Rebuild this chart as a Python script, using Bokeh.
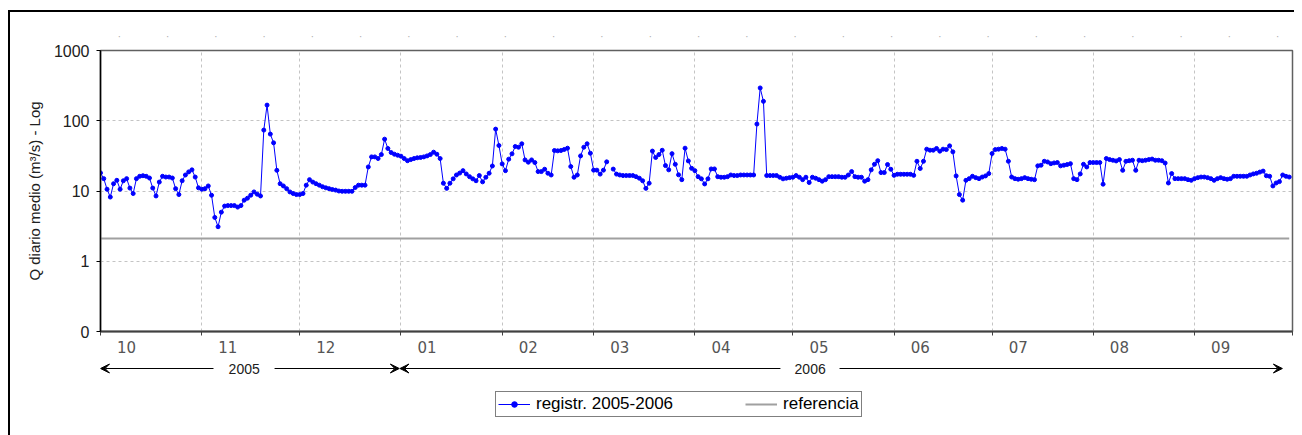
import numpy as np
import pandas as pd
from bokeh.plotting import figure
from bokeh.layouts import column
from bokeh.models import (Range1d, FixedTicker, CustomJSTickFormatter, Legend, LegendItem,
                          Arrow, VeeHead, Label, ColumnDataSource, LinearAxis)
from bokeh.embed import file_html
from bokeh.resources import INLINE

# ---------------- data ----------------
dates = pd.date_range("2005-10-01", "2006-09-30", freq="D")

q_oct = [18.1, 15, 10.6, 8.2, 12.7, 14.2, 10.6, 14, 15, 11, 9.2, 15, 16.2, 16.5, 16.2, 15.3,
         11, 8.5, 13.4, 16.2, 15.8, 15.8, 15.3, 10.8, 8.9, 14, 16.9, 18.7, 20, 15.8, 11.1]
q_nov = [10.6, 10.8, 11.8, 8.7, 4.2, 3.1, 5.0, 6.1, 6.2, 6.2, 6.2, 5.9, 6.2, 7.4, 7.9, 8.7,
         9.7, 9.0, 8.5, 73.6, 167, 64.6, 48.5, 19.7, 12.7, 11.8, 10.8, 9.7, 9.2, 8.9]
q_dec = [8.9, 9.2, 12.1, 14.5, 13.4, 12.7, 12.1, 11.5, 11.1, 10.8, 10.5, 10.3, 10.0, 9.9, 9.9,
         9.9, 9.9, 11.2, 12.1, 12.1, 12.1, 22, 30.6, 30.6, 29, 33, 54.7, 40.3, 35.3, 33.4, 32.3]
q_jan = [31.3, 29, 27, 28, 29, 29.7, 30, 30.6, 31.6, 33, 35.7, 33.4, 29, 12.9, 10.9, 12.9,
         14.9, 16.9, 18, 19.5, 17.5, 16, 14.9, 14, 16.6, 13.5, 15.7, 17.9, 22.7, 76, 44.4]
q_feb = [24.3, 19.5, 28.4, 33.8, 43, 42, 47, 27.7, 25.7, 27.7, 25.4, 18.9, 18.9, 20.4, 17.9,
         16.9, 37.7, 37.3, 37.7, 39, 40.7, 22.3, 15.7, 16.9, 31.6, 42, 47, 34.5]
q_mar = [19.8, 19.8, 17.4, 19.8, 26, np.nan, 20.5, 17.4, 16.9, 16.6, 16.6, 16.6, 16.6, 16,
         15.2, 14, 10.9, 12.9, 37, 30, 33, 38, 23, 20, 34, 24, 17, 14.5, 40.7, 26.8, 21]
q_apr = [19.5, 16, 14.9, 12.6, 14.9, 20.6, 20.6, 16, 15.7, 15.7, 16, 16.9, 16.6, 16.6, 16.9,
         16.9, 16.9, 16.9, 16.9, 89.7, 293, 189, 16.6, 16.6, 16.6, 16.6, 15.7, 14.9, 15.2, 15.5]
q_may = [15.7, 16.6, 15.7, 14.5, 15.7, 13.2, 15.7, 15.2, 14.5, 13.8, 14.5, 16, 16, 16, 16,
         15.7, 15.7, 16.9, 18.9, 16, 15.7, 15.7, 13.8, 14.5, 20, 24, 27, 18.3, 18.3, 23.8, 20.4]
q_jun = [16.7, 17.3, 17.3, 17.3, 17.3, 17.3, 16.7, 26.5, 20.9, 26.5, 39.4, 38.1, 38.1, 40.3,
         36.9, 39.4, 38.9, 43.9, 36.1, 16.4, 8.9, 7.4, 14.2, 15, 16.2, 15.5, 15, 15.8, 16.4, 17.7]
q_jul = [34.1, 38.9, 39.4, 40.3, 39.4, 26.5, 15.8, 15, 14.7, 15, 15.5, 15, 14.7, 14.5, 22.8,
         23.3, 26.5, 25.9, 24.5, 25.1, 25.4, 22.8, 23.3, 23.8, 24.5, 15, 14.5, 17.5, 24, 22, 25.4]
q_aug = [25.4, 25.4, 25.4, 12.5, 29, 28, 27.4, 26.8, 28, 19.7, 26.5, 27, 27.4, 19.7, 27.4, 27,
         27.4, 28, 28.5, 27.4, 27.4, 27, 25, 13, 17.7, 15, 15, 15, 15, 14.5, 14.2]
q_sep = [15, 15.5, 15.8, 15.8, 15.5, 15, 14.2, 15, 15.5, 15, 14.7, 15, 16.2, 16.2, 16.2, 16.2,
         16.2, 16.9, 17.5, 17.9, 18.6, 19.2, 16.5, 16.2, 11.8, 13, 13.6, 16.9, 16.2, 15.8]

q_registro = (q_oct + q_nov + q_dec + q_jan + q_feb + q_mar + q_apr + q_may + q_jun
              + q_jul + q_aug + q_sep)
q_referencia = 2.1

month_labels = ["10", "11", "12", "01", "02", "03", "04", "05", "06", "07", "08", "09"]
year_labels = ["2005", "2006"]
y_ticks = [0.1, 1, 10, 100, 1000]

# ---------------- derived positions ----------------
day = (dates - dates[0]).days.to_numpy().astype(float)
n_days = len(dates)
month_starts = pd.date_range("2005-10-01", "2006-09-01", freq="MS")
month_start_day = [int((m - dates[0]).days) for m in month_starts]
label_pos = [d + 8 for d in month_start_day]
jan1 = int((pd.Timestamp("2006-01-01") - dates[0]).days)

src = ColumnDataSource(dict(x=day, q=np.array(q_registro, dtype=float)))
ref_src = ColumnDataSource(dict(x=[0, n_days - 1], q=[q_referencia, q_referencia]))

FONT = "Liberation Sans"
LEFT = 90
RIGHT = 2
FRAME_W = 1192

x_range = Range1d(0, n_days)

p = figure(frame_width=FRAME_W, frame_height=281, output_backend="svg", toolbar_location=None,
           y_axis_type="log", x_range=x_range, y_range=Range1d(0.1, 1000),
           min_border_left=LEFT, min_border_right=RIGHT, min_border_top=38,
           min_border_bottom=27)
p.background_fill_color = "white"
p.border_fill_color = "white"
p.outline_line_color = "#606060"
p.outline_line_width = 1.5

# grids
p.xgrid.ticker = FixedTicker(ticks=month_start_day[1:])
p.ygrid.ticker = FixedTicker(ticks=[1, 10, 100])
for g in (p.xgrid, p.ygrid):
    g.grid_line_color = "#c4c4c4"
    g.grid_line_dash = "3 3"
    g.grid_line_width = 1

# x axis
xa = p.xaxis[0]
xa.ticker = FixedTicker(ticks=label_pos, minor_ticks=month_start_day + [n_days])
xa.major_label_overrides = {pos: lab for pos, lab in zip(label_pos, month_labels)}
xa.major_tick_line_color = None
xa.major_tick_out = 0
xa.major_tick_in = 0
xa.minor_tick_line_color = "#404040"
xa.minor_tick_out = 4
xa.minor_tick_in = 0
xa.axis_line_color = "#404040"
xa.axis_line_width = 2
xa.major_label_standoff = 5
xa.major_label_text_font = "DejaVu Sans"
xa.major_label_text_font_size = "15px"
xa.major_label_text_color = "#555555"

# faint dotted marks above the frame
top_marks = np.linspace(5.8, 360.4, 25)
ta = LinearAxis(ticker=FixedTicker(ticks=list(top_marks), minor_ticks=[]),
                formatter=CustomJSTickFormatter(code="return '·';"))
ta.axis_line_color = None
ta.major_tick_line_color = None
ta.major_tick_out = 0
ta.major_tick_in = 0
ta.major_label_standoff = 9
ta.major_label_text_color = "#b0b0b0"
ta.major_label_text_font_size = "11px"
p.add_layout(ta, "above")

# y axis
ya = p.yaxis[0]
ya.ticker = FixedTicker(ticks=y_ticks, minor_ticks=[])
ya.formatter = CustomJSTickFormatter(code="return tick < 0.5 ? '0' : String(Math.round(tick));")
ya.major_tick_out = 4
ya.major_tick_in = 0
ya.major_tick_line_color = "black"
ya.axis_line_color = "black"
ya.axis_line_width = 1.5
ya.major_label_standoff = 7
ya.major_label_text_font = FONT
ya.major_label_text_font_size = "16px"
ya.major_label_text_color = "#202020"
ya.axis_label = "Q diario medio (m³/s) - Log"
ya.axis_label_text_font = FONT
ya.axis_label_text_font_size = "15px"
ya.axis_label_text_font_style = "normal"
ya.axis_label_text_color = "#202020"
ya.axis_label_standoff = 8

# series
p.line("x", "q", source=ref_src, line_color="#a0a0a0", line_width=2)
p.line("x", "q", source=src, line_color="#0000ff", line_width=1)
p.scatter("x", "q", source=src, size=4, fill_color="#0000ff", line_color="#0000ff")

# ---------------- lower strip: year arrows + legend ----------------
H2 = 77
p2 = figure(frame_width=FRAME_W, frame_height=H2, output_backend="svg", toolbar_location=None,
            x_range=x_range, y_range=Range1d(0, H2),
            x_axis_location=None, y_axis_location=None,
            min_border_left=LEFT, min_border_right=RIGHT, min_border_top=0, min_border_bottom=0)
p2.outline_line_color = None
p2.grid.visible = False
p2.background_fill_color = "white"
p2.border_fill_color = "white"

y_arrow = H2 - 10
segments = [
    (0, 34.6, True), (53.3, jan1 - 0.5, False),
    (jan1 - 0.3, 208.2, True), (226.3, n_days - 3.1, False),
]
for xs, xe, head_start in segments:
    a, b = (xe, xs) if head_start else (xs, xe)
    p2.add_layout(Arrow(x_start=a, y_start=y_arrow, x_end=b, y_end=y_arrow,
                        end=VeeHead(size=9, fill_color="black", line_color="black", line_width=1),
                        line_color="black", line_width=1))

for xc, txt in zip([44, 217.3], year_labels):
    p2.add_layout(Label(x=xc, y=y_arrow, text=txt, text_align="center", text_baseline="middle",
                        text_font=FONT, text_font_size="14px", text_color="#202020"))

# legend proxies (placed outside the visible strip range)
proxy = ColumnDataSource(dict(x=[-20, -10], q=[-50, -50]))
d_ref = p2.line("x", "q", source=proxy, line_color="#a0a0a0", line_width=2)
d_line = p2.line("x", "q", source=proxy, line_color="#0000ff", line_width=1)
d_pts = p2.scatter("x", "q", source=proxy, size=4, fill_color="#0000ff", line_color="#0000ff")

legend = Legend(items=[LegendItem(label="registr. 2005-2006", renderers=[d_line, d_pts]),
                       LegendItem(label="referencia", renderers=[d_ref])],
                orientation="horizontal", location=(395, 18))
legend.label_text_font = FONT
legend.label_text_font_size = "17px"
legend.label_text_color = "black"
legend.glyph_width = 32
legend.glyph_height = 14
legend.label_height = 14
legend.label_standoff = 6
legend.spacing = 72
legend.padding = 2
legend.margin = 0
legend.border_line_color = "black"
legend.border_line_width = 1
legend.background_fill_color = "white"
legend.background_fill_alpha = 1
p2.add_layout(legend)

layout = column(p, p2, spacing=0,
                styles={"border-left": "2px solid black", "border-top": "2px solid black",
                        "margin-left": "8px", "margin-top": "10px"})

open("out.html", "w").write(file_html(layout, INLINE))
